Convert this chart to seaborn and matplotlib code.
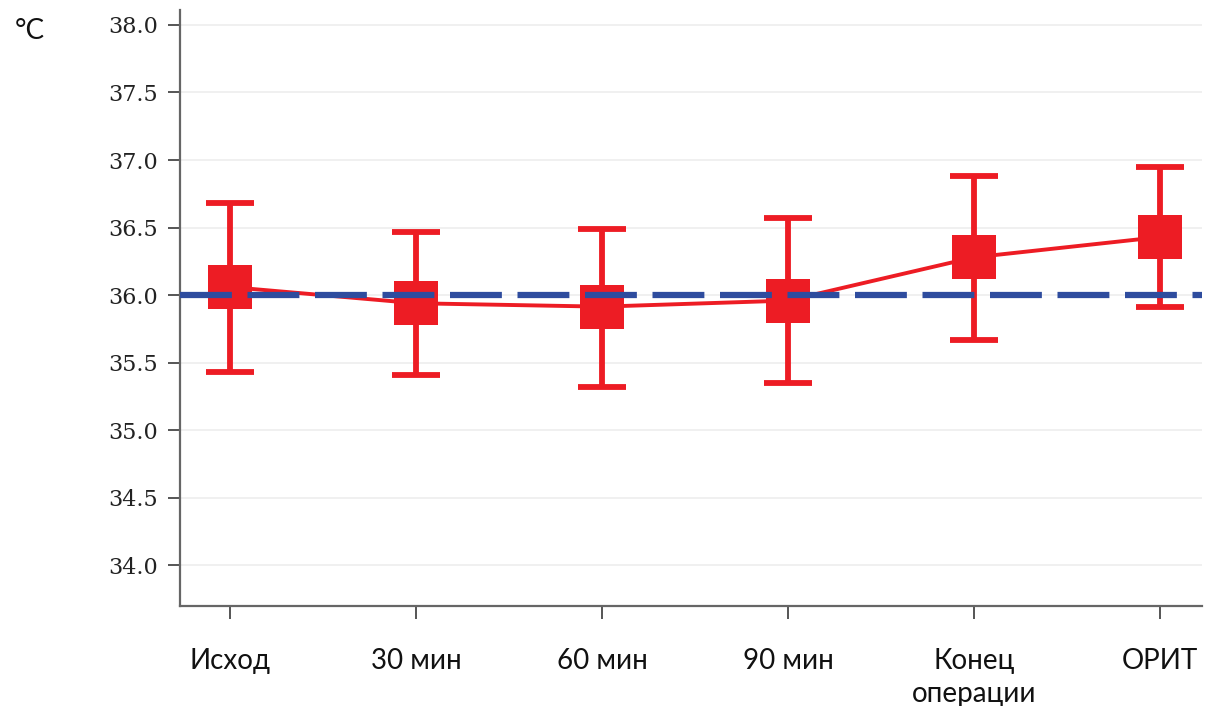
import matplotlib
matplotlib.use("Agg")
import matplotlib.pyplot as plt
import seaborn as sns
import numpy as np

categories = ["Исход", "30 мин", "60 мин", "90 мин", "Конец\nоперации", "ОРИТ"]
means = [36.06, 35.94, 35.915, 35.96, 36.28, 36.43]
upper = [36.68, 36.47, 36.49, 36.57, 36.88, 36.95]
lower = [35.43, 35.41, 35.32, 35.35, 35.67, 35.91]
reference_level = 36.0
yticks = [34.0, 34.5, 35.0, 35.5, 36.0, 36.5, 37.0, 37.5, 38.0]

RED = "#ED1C24"
BLUE = "#2E4C9E"

sns.set_theme(style="white")
plt.rcParams['font.family'] = ['Lato', 'DejaVu Sans']

fig = plt.figure(figsize=(12.07, 7.06), dpi=100)
ax = fig.add_axes([180/1207, 1 - 606/706, (1202 - 180)/1207, (606 - 10)/706])

x = np.arange(len(categories))
m = np.array(means)
yerr = np.vstack([m - np.array(lower), np.array(upper) - m])

ax.errorbar(x, m, yerr=yerr, fmt="none", ecolor=RED, elinewidth=4.2,
            capsize=17, capthick=4.2, zorder=2)
sns.lineplot(x=x, y=means, ax=ax, color=RED, linewidth=2.8, marker="s",
             markersize=31, markeredgewidth=0, sort=False, zorder=3)
ax.axhline(reference_level, color=BLUE, linewidth=4.5, dashes=(8.3, 2.5), zorder=4)

ax.set_xlim(-0.27, 5.226)
ax.set_ylim(33.70, 38.11)
ax.set_yticks(yticks)
ax.set_yticklabels([f"{v:.1f}" for v in yticks], family="DejaVu Serif",
                   fontsize=16, color="#222222")
ax.set_xticks(x)
ax.set_xticklabels(categories, fontsize=20, color="#111111", linespacing=1.35)

ax.yaxis.grid(True, color="#eeeeee", linewidth=1.2, zorder=0)
ax.xaxis.grid(False)
ax.set_axisbelow(True)

for s in ["top", "right"]:
    ax.spines[s].set_visible(False)
for s in ["left", "bottom"]:
    ax.spines[s].set_color("#666666")
    ax.spines[s].set_linewidth(1.6)

ax.tick_params(axis="y", direction="out", length=9, width=1.4, color="#555555", pad=7, left=True)
ax.tick_params(axis="x", direction="out", length=9, width=1.4, color="#555555", pad=21, bottom=True)

fig.text(15/1207, 1 - 31/706, "°C", fontsize=20, color="#111111", va="center", ha="left")

fig.savefig("out.png", dpi=100)
